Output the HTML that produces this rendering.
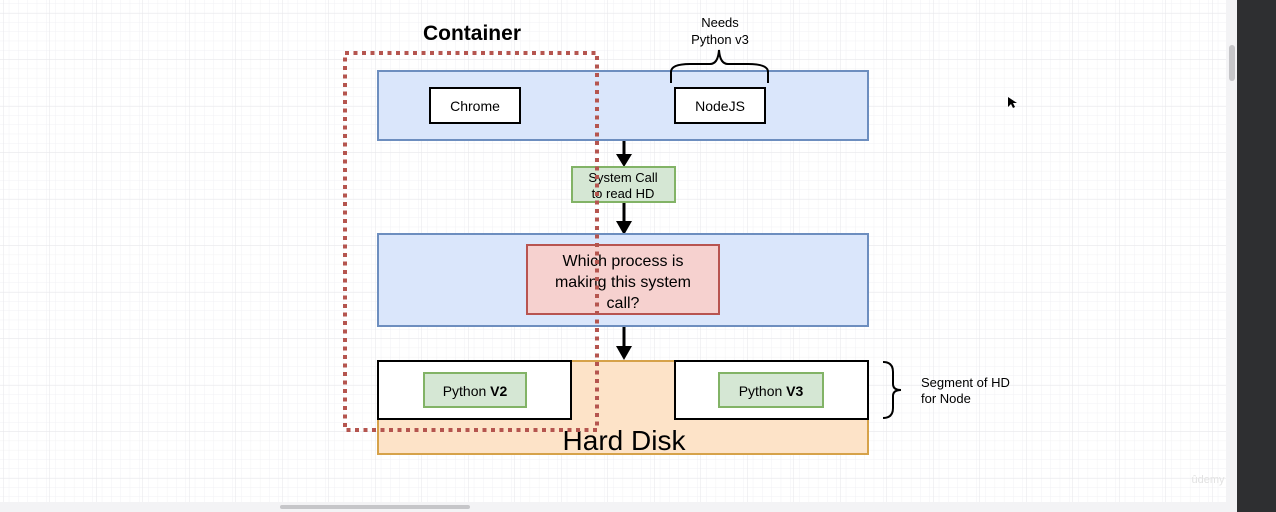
<!DOCTYPE html>
<html><head><meta charset="utf-8"><style>
html,body{margin:0;padding:0;width:1276px;height:512px;overflow:hidden;background:#fff}
</style></head><body>
<svg width="1276" height="512" viewBox="0 0 1276 512" xmlns="http://www.w3.org/2000/svg" font-family="Liberation Sans, sans-serif">
<defs>
<pattern id="minor" width="9.3" height="9.3" patternUnits="userSpaceOnUse" x="0" y="4">
<path d="M9.3 0V9.3M0 9.3H9.3" stroke="#f1f1f4" stroke-width="1" fill="none"/></pattern>
<pattern id="major" width="46.5" height="46.5" patternUnits="userSpaceOnUse" x="3" y="13">
<path d="M0 0V46.5M0 0H46.5" stroke="#e6e6ea" stroke-width="1" fill="none"/></pattern>
</defs>
<rect width="1276" height="512" fill="#fff"/>
<rect width="1226" height="502" fill="url(#minor)"/>
<rect width="1226" height="502" fill="url(#major)"/>
<rect x="1226" y="0" width="11" height="512" fill="#f3f3f5"/>
<rect x="1229" y="45" width="6" height="36" rx="3" fill="#c6c6c9"/>
<rect x="0" y="502" width="1237" height="10" fill="#f3f3f5"/>
<rect x="280" y="505" width="190" height="4" rx="2" fill="#c6c6c9"/>
<rect x="1237" y="0" width="39" height="512" fill="#2e2f31"/>
<text x="1208" y="483" font-size="11" fill="#e2e2e2" text-anchor="middle">ûdemy</text>

<rect x="378" y="71" width="490" height="69" fill="#dae6fb" stroke="#6d8ebf" stroke-width="2"/>
<rect x="430" y="88" width="90" height="35" fill="#fff" stroke="#000" stroke-width="2"/>
<text x="475" y="111" font-size="14" text-anchor="middle">Chrome</text>
<rect x="675" y="88" width="90" height="35" fill="#fff" stroke="#000" stroke-width="2"/>
<text x="720" y="111" font-size="14" text-anchor="middle">NodeJS</text>
<path d="M671 83V72Q671 64 690 64H710Q718 64 719 50Q720 64 728 64H748Q768 64 768 72V83" fill="none" stroke="#000" stroke-width="2"/>
<text x="720" y="27" font-size="13" text-anchor="middle">Needs</text>
<text x="720" y="44" font-size="13" text-anchor="middle">Python v3</text>
<text x="472" y="40" font-size="21" font-weight="bold" text-anchor="middle">Container</text>

<g stroke="#000" stroke-width="3"><line x1="624" y1="141" x2="624" y2="158"/><line x1="624" y1="203" x2="624" y2="224"/><line x1="624" y1="327" x2="624" y2="350"/></g>
<g fill="#000"><path d="M616 154L624 167L632 154Z"/><path d="M616 221L624 235L632 221Z"/><path d="M616 346L624 360L632 346Z"/></g>

<rect x="572" y="167" width="103" height="35" fill="#d5e7d4" stroke="#82b366" stroke-width="2"/>
<text x="623" y="182" font-size="13" text-anchor="middle">System Call</text>
<text x="623" y="198" font-size="13" text-anchor="middle">to read HD</text>

<rect x="378" y="234" width="490" height="92" fill="#dae6fb" stroke="#6d8ebf" stroke-width="2"/>
<rect x="527" y="245" width="192" height="69" fill="#f6d1cf" stroke="#b85450" stroke-width="2"/>
<text x="623" y="266" font-size="16" text-anchor="middle">Which process is</text>
<text x="623" y="287" font-size="16" text-anchor="middle">making this system</text>
<text x="623" y="308" font-size="16" text-anchor="middle">call?</text>

<rect x="378" y="361" width="490" height="93" fill="#fde3c8" stroke="#d6a24a" stroke-width="2"/>
<rect x="378" y="361" width="193" height="58" fill="#fff" stroke="#000" stroke-width="2"/>
<rect x="675" y="361" width="193" height="58" fill="#fff" stroke="#000" stroke-width="2"/>
<rect x="424" y="373" width="102" height="34" fill="#d5e7d4" stroke="#82b366" stroke-width="2"/>
<text x="475" y="396" font-size="14" text-anchor="middle">Python <tspan font-weight="bold">V2</tspan></text>
<rect x="719" y="373" width="104" height="34" fill="#d5e7d4" stroke="#82b366" stroke-width="2"/>
<text x="771" y="396" font-size="14" text-anchor="middle">Python <tspan font-weight="bold">V3</tspan></text>
<text x="624" y="450" font-size="28" text-anchor="middle">Hard Disk</text>

<path d="M883 362Q893 362 893 372V384Q893 390 901 390Q893 390 893 396V408Q893 418 883 418" fill="none" stroke="#000" stroke-width="2"/>
<text x="921" y="387" font-size="13">Segment of HD</text>
<text x="921" y="403" font-size="13">for Node</text>

<rect x="345" y="53" width="252" height="377" fill="none" stroke="#b5554f" stroke-width="4" stroke-dasharray="4 4.5"/>

<path d="M1008 97L1008 107L1011 104L1013 108L1015 107L1013 103L1017 103Z" fill="#000"/>
</svg>
</body></html>
